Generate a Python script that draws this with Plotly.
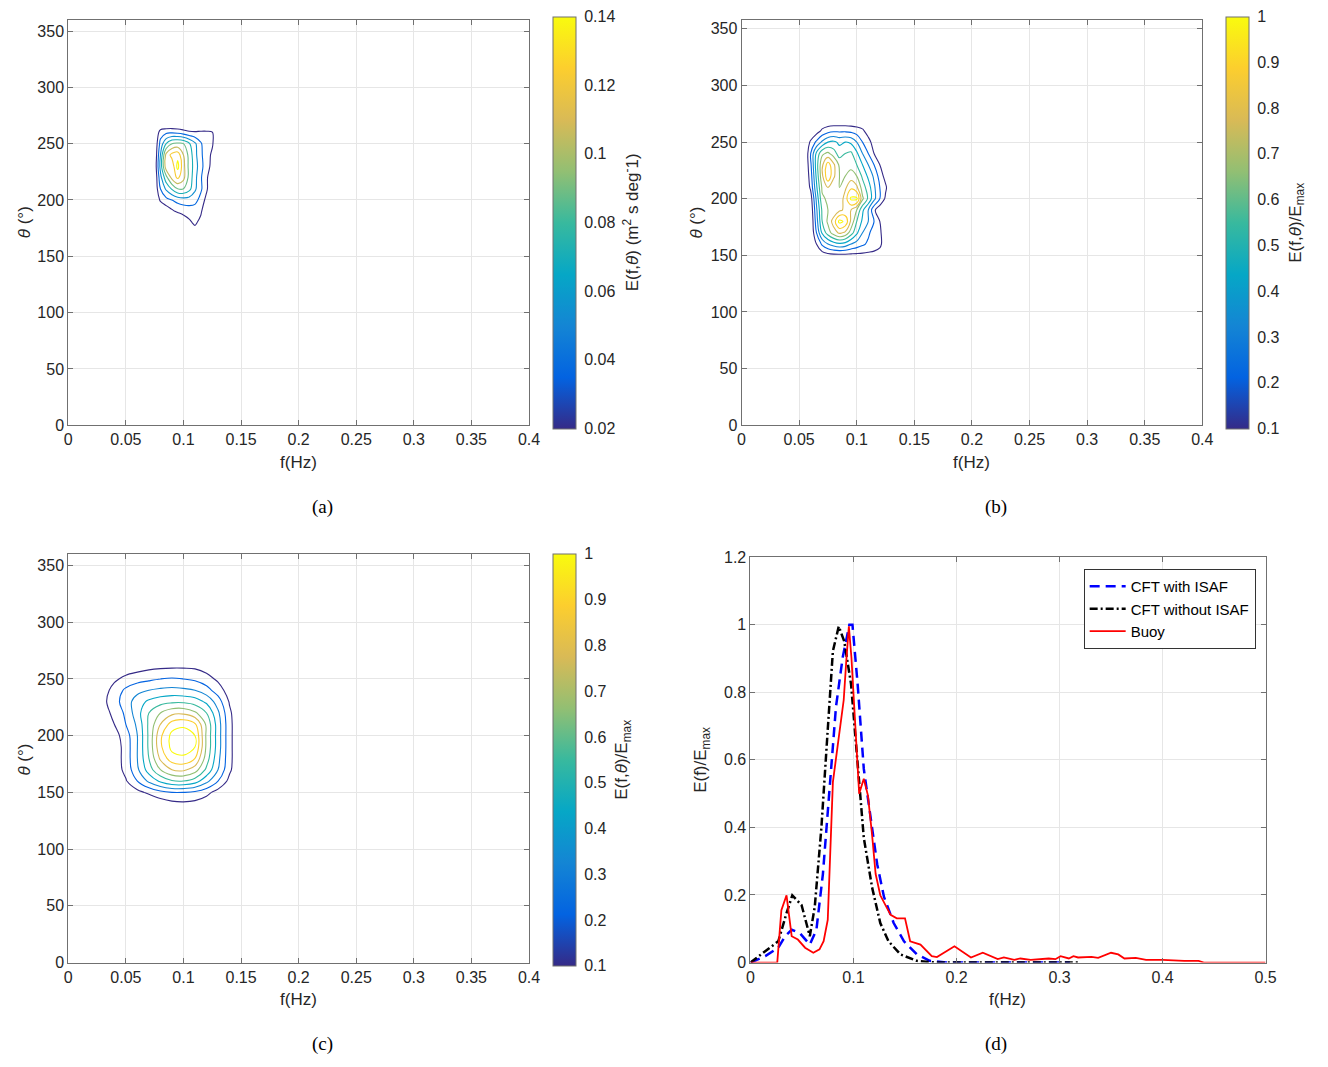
import plotly.graph_objects as go

# ---------------- data ----------------
# (a) E(f,theta) in m^2 s deg^-1
f_a = [0.07, 0.075, 0.08, 0.085, 0.09, 0.095, 0.10, 0.105, 0.11, 0.115, 0.12, 0.125, 0.13, 0.135]
theta_a = [160, 170, 180, 190, 200, 210, 220, 230, 240, 250, 260, 270]
E_a = [
    [0, 0, 0, 0, 0, 0, 0, 0, 0, 0, 0, 0, 0, 0],
    [0, 0, 0, 0, 0, 0, 0, 0.01, 0.016, 0.01, 0, 0, 0, 0],
    [0, 0, 0, 0, 0, 0, 0.015, 0.022, 0.028, 0.02, 0.005, 0, 0, 0],
    [0, 0, 0.005, 0.015, 0.022, 0.028, 0.03, 0.032, 0.032, 0.028, 0.01, 0, 0, 0],
    [0, 0.005, 0.028, 0.035, 0.04, 0.045, 0.048, 0.048, 0.045, 0.035, 0.02, 0, 0, 0],
    [0, 0.012, 0.04, 0.058, 0.072, 0.085, 0.085, 0.075, 0.058, 0.043, 0.028, 0.01, 0, 0],
    [0, 0.01, 0.05, 0.08, 0.105, 0.118, 0.105, 0.08, 0.06, 0.042, 0.028, 0.012, 0, 0],
    [0, 0.012, 0.06, 0.11, 0.105, 0.135, 0.105, 0.08, 0.063, 0.045, 0.032, 0.02, 0.01, 0],
    [0, 0.01, 0.055, 0.105, 0.12, 0.125, 0.10, 0.08, 0.06, 0.043, 0.032, 0.022, 0.01, 0],
    [0, 0.01, 0.045, 0.07, 0.085, 0.088, 0.085, 0.072, 0.058, 0.042, 0.03, 0.027, 0.01, 0],
    [0, 0.005, 0.033, 0.037, 0.038, 0.036, 0.032, 0.028, 0.027, 0.028, 0.028, 0.026, 0.005, 0],
    [0, 0, 0, 0, 0, 0, 0, 0, 0, 0, 0, 0, 0, 0],
]

# (b) normalised E(f,theta)/Emax, CFT with ISAF
f_b = [0.055, 0.06, 0.065, 0.07, 0.075, 0.08, 0.085, 0.09, 0.095, 0.10, 0.105, 0.11, 0.115, 0.12, 0.125, 0.13]
theta_b = [140, 150, 160, 170, 180, 190, 200, 210, 220, 230, 240, 250, 260, 270]
E_b = [
    [0, 0, 0, 0, 0, 0, 0, 0, 0, 0, 0, 0, 0, 0, 0, 0],
    [0, 0, 0, 0.04, 0.06, 0.07, 0.07, 0.07, 0.07, 0.07, 0.07, 0.07, 0.07, 0.06, 0, 0],
    [0, 0, 0.1, 0.22, 0.3, 0.35, 0.38, 0.36, 0.3, 0.26, 0.22, 0.18, 0.15, 0.12, 0.05, 0],
    [0, 0, 0.2, 0.42, 0.55, 0.65, 0.72, 0.68, 0.55, 0.42, 0.3, 0.22, 0.15, 0.12, 0.03, 0],
    [0, 0, 0.25, 0.5, 0.62, 0.75, 0.93, 0.88, 0.68, 0.5, 0.38, 0.3, 0.2, 0.1, 0.02, 0],
    [0, 0.02, 0.28, 0.52, 0.6, 0.62, 0.68, 0.72, 0.7, 0.6, 0.42, 0.3, 0.12, 0.03, 0, 0],
    [0, 0.05, 0.32, 0.58, 0.62, 0.6, 0.62, 0.75, 0.92, 0.92, 0.62, 0.48, 0.33, 0.2, 0.08, 0],
    [0, 0.12, 0.38, 0.62, 0.7, 0.62, 0.6, 0.68, 0.78, 0.72, 0.55, 0.45, 0.32, 0.2, 0.12, 0],
    [0, 0.15, 0.42, 0.68, 0.88, 0.72, 0.6, 0.6, 0.65, 0.6, 0.48, 0.38, 0.28, 0.16, 0.06, 0],
    [0, 0.18, 0.45, 0.68, 0.85, 0.72, 0.58, 0.55, 0.56, 0.5, 0.4, 0.3, 0.2, 0.1, 0.02, 0],
    [0, 0.2, 0.42, 0.58, 0.62, 0.55, 0.45, 0.5, 0.52, 0.42, 0.3, 0.2, 0.1, 0.02, 0, 0],
    [0, 0.12, 0.22, 0.32, 0.4, 0.42, 0.38, 0.4, 0.38, 0.3, 0.2, 0.14, 0.05, 0, 0, 0],
    [0, 0, 0.05, 0.12, 0.16, 0.18, 0.18, 0.18, 0.17, 0.15, 0.12, 0.05, 0, 0, 0, 0],
    [0, 0, 0, 0, 0, 0, 0, 0, 0, 0, 0, 0, 0, 0, 0, 0],
]

# (c) normalised E(f,theta)/Emax, CFT without ISAF
f_c = [0.02, 0.03, 0.04, 0.05, 0.06, 0.07, 0.08, 0.09, 0.10, 0.11, 0.12, 0.13, 0.14, 0.15, 0.16]
theta_c = [130, 140, 150, 160, 170, 180, 190, 200, 210, 220, 230, 240, 250, 260, 270]
E_c = [
    [0, 0, 0, 0, 0, 0, 0, 0, 0, 0, 0, 0, 0, 0, 0],
    [0, 0, 0, 0, 0, 0, 0.04, 0.07, 0.08, 0.07, 0.04, 0, 0, 0, 0],
    [0, 0, 0, 0.02, 0.07, 0.12, 0.17, 0.2, 0.2, 0.18, 0.13, 0.06, 0, 0, 0],
    [0, 0, 0.01, 0.09, 0.2, 0.32, 0.42, 0.49, 0.5, 0.45, 0.33, 0.2, 0.07, 0, 0],
    [0, 0, 0.04, 0.13, 0.28, 0.45, 0.6, 0.7, 0.72, 0.65, 0.48, 0.3, 0.12, 0, 0],
    [0, 0, 0.04, 0.14, 0.3, 0.5, 0.72, 0.86, 0.88, 0.8, 0.55, 0.33, 0.13, 0, 0],
    [0, 0, 0.04, 0.14, 0.3, 0.52, 0.78, 0.93, 0.95, 0.9, 0.58, 0.35, 0.13, 0, 0],
    [0, 0, 0.06, 0.15, 0.3, 0.52, 0.78, 0.93, 0.95, 0.9, 0.58, 0.35, 0.13, 0, 0],
    [0, 0.02, 0.1, 0.2, 0.32, 0.52, 0.7, 0.85, 0.88, 0.82, 0.58, 0.35, 0.13, 0, 0],
    [0, 0.05, 0.13, 0.22, 0.36, 0.5, 0.6, 0.67, 0.68, 0.62, 0.5, 0.32, 0.12, 0, 0],
    [0, 0.07, 0.16, 0.25, 0.35, 0.42, 0.46, 0.48, 0.48, 0.45, 0.38, 0.25, 0.09, 0, 0],
    [0, 0.05, 0.14, 0.22, 0.27, 0.3, 0.32, 0.33, 0.32, 0.3, 0.24, 0.15, 0.05, 0, 0],
    [0, 0, 0.08, 0.13, 0.16, 0.18, 0.2, 0.21, 0.2, 0.18, 0.14, 0.08, 0, 0, 0],
    [0, 0, 0.02, 0.04, 0.06, 0.08, 0.09, 0.095, 0.095, 0.09, 0.06, 0.02, 0, 0, 0],
    [0, 0, 0, 0, 0, 0, 0, 0, 0, 0, 0, 0, 0, 0, 0],
]

# (d) 1-D spectra
isaf_f = [0, 0.0144, 0.027, 0.0336, 0.040, 0.048, 0.0576, 0.064, 0.0703, 0.0768, 0.083, 0.0895,
          0.096, 0.099, 0.104, 0.110, 0.117, 0.123, 0.1296, 0.139, 0.149, 0.1615, 0.174, 0.19, 0.31]
isaf_E = [0, 0.019, 0.044, 0.078, 0.097, 0.087, 0.053, 0.097, 0.262, 0.515, 0.757, 0.903,
          1.0, 1.0, 0.825, 0.573, 0.417, 0.291, 0.194, 0.117, 0.063, 0.024, 0.005, 0, 0]
noisaf_f = [0, 0.027, 0.035, 0.0406, 0.0496, 0.0576, 0.0624, 0.0688, 0.075, 0.080, 0.0857, 0.091,
            0.0976, 0.104, 0.110, 0.118, 0.126, 0.134, 0.1456, 0.1615, 0.18, 0.32]
noisaf_E = [0, 0.063, 0.146, 0.199, 0.170, 0.078, 0.165, 0.398, 0.689, 0.922, 0.995, 0.951,
            0.825, 0.592, 0.369, 0.223, 0.117, 0.063, 0.024, 0.005, 0, 0]
buoy_f = [0, 0.026, 0.030, 0.035, 0.040, 0.046, 0.053, 0.061, 0.067, 0.071, 0.075, 0.080, 0.085,
          0.0905, 0.093, 0.0955, 0.098, 0.1055, 0.110, 0.114, 0.118, 0.1215, 0.126, 0.136, 0.142,
          0.150, 0.155, 0.165, 0.176, 0.181, 0.198, 0.214, 0.2255, 0.240, 0.246, 0.256, 0.262,
          0.272, 0.2895, 0.296, 0.301, 0.309, 0.3135, 0.318, 0.331, 0.3375, 0.350, 0.357, 0.363,
          0.374, 0.384, 0.400, 0.421, 0.435, 0.440, 0.50]
buoy_E = [0, 0, 0.155, 0.199, 0.078, 0.068, 0.044, 0.029, 0.039, 0.063, 0.126, 0.534, 0.650,
          0.777, 0.893, 0.995, 0.903, 0.50, 0.544, 0.495, 0.379, 0.262, 0.199, 0.141, 0.131,
          0.131, 0.063, 0.053, 0.019, 0.016, 0.048, 0.015, 0.029, 0.010, 0.015, 0.008, 0.012,
          0.008, 0.012, 0.010, 0.019, 0.012, 0.019, 0.015, 0.017, 0.014, 0.029, 0.024, 0.012,
          0.014, 0.008, 0.008, 0.005, 0.005, 0, 0]

legend_names = ["CFT with ISAF", "CFT without ISAF", "Buoy"]
captions = ["(a)", "(b)", "(c)", "(d)"]

# ---------------- styling ----------------
W, H = 1328, 1067
def X(px):
    return px / W
def Y(py):
    return 1 - py / H

parula = ['#352a87', '#0363e1', '#1485d4', '#06a7c6', '#38b99e',
          '#92bf73', '#d9ba56', '#fcce2e', '#f9fb0e']
cs = [[i / (len(parula) - 1), c] for i, c in enumerate(parula)]

FONT = "Liberation Sans, Arial, Helvetica, sans-serif"
SERIF = "Liberation Serif, Times New Roman, serif"
TXT = '#262626'
AX = '#707070'

fig = go.Figure()

def add_contour(f, th, z, axn, zmin, zmax, start, end, size):
    fig.add_trace(go.Contour(
        x=f, y=th, z=z, xaxis='x' + axn, yaxis='y' + axn,
        colorscale=cs, zmin=zmin, zmax=zmax, showscale=False,
        contours=dict(start=start, end=end, size=size, coloring='lines'),
        line=dict(width=1.1, smoothing=1.0), hoverinfo='skip', showlegend=False))

def add_cbar(axn, zmin, zmax, dtick, x_px, ytop_px, ybot_px):
    fig.add_trace(go.Scatter(
        x=[None, None], y=[None, None], mode='markers', xaxis='x' + axn, yaxis='y' + axn,
        showlegend=False, hoverinfo='skip',
        marker=dict(color=[zmin, zmax], cmin=zmin, cmax=zmax, colorscale=cs, showscale=True,
                    colorbar=dict(x=X(x_px), xanchor='left', y=Y((ytop_px + ybot_px) / 2),
                                  yanchor='middle', len=ybot_px - ytop_px, lenmode='pixels',
                                  thickness=23, thicknessmode='pixels', xpad=0, ypad=0,
                                  outlinecolor=AX, outlinewidth=1, ticks='outside', ticklen=5,
                                  tickcolor='rgba(0,0,0,0)', tick0=zmin, dtick=dtick,
                                  tickfont=dict(family=FONT, size=16, color=TXT)))))

add_contour(f_a, theta_a, E_a, '', 0.02, 0.14, 0.025, 0.13, 0.015)
add_cbar('', 0.02, 0.14, 0.02, 555, 12, 424)
add_contour(f_b, theta_b, E_b, '2', 0.1, 1.0, 0.1, 0.9, 0.1)
add_cbar('2', 0.1, 1.0, 0.1, 1236, 12, 424)
add_contour(f_c, theta_c, E_c, '3', 0.1, 1.0, 0.1, 0.9, 0.1)
add_cbar('3', 0.1, 1.0, 0.1, 555, 558, 970)

fig.add_trace(go.Scatter(x=isaf_f, y=isaf_E, mode='lines', name=legend_names[0],
                         xaxis='x4', yaxis='y4',
                         line=dict(color='#0000ff', width=2.5, dash='10px,6px')))
fig.add_trace(go.Scatter(x=noisaf_f, y=noisaf_E, mode='lines', name=legend_names[1],
                         xaxis='x4', yaxis='y4',
                         line=dict(color='#000000', width=2.5, dash='8px,3px,2px,3px')))
fig.add_trace(go.Scatter(x=buoy_f, y=buoy_E, mode='lines', name=legend_names[2],
                         xaxis='x4', yaxis='y4',
                         line=dict(color='#ff0000', width=1.8)))

base = dict(showline=True, linecolor=AX, linewidth=1, mirror='allticks', ticks='inside',
            ticklen=5, tickcolor=AX, showgrid=True, gridcolor='#e6e6e6', gridwidth=1,
            zeroline=False, fixedrange=True,
            tickfont=dict(family=FONT, size=16, color=TXT))

def xa(d0, d1, rng, dtick, anchor):
    return dict(base, domain=[X(d0), X(d1)], range=rng, tick0=0, dtick=dtick, anchor=anchor)

def ya(t, b, rng, dtick, anchor):
    return dict(base, domain=[Y(b), Y(t)], range=rng, tick0=0, dtick=dtick, anchor=anchor)

fig.update_layout(
    width=W, height=H, margin=dict(l=0, r=0, t=0, b=0),
    paper_bgcolor='white', plot_bgcolor='white', hovermode=False,
    xaxis=xa(65, 531, [0, 0.4], 0.05, 'y'),
    yaxis=ya(12, 424, [0, 360], 50, 'x'),
    xaxis2=xa(746, 1212, [0, 0.4], 0.05, 'y2'),
    yaxis2=ya(12, 424, [0, 358], 50, 'x2'),
    xaxis3=xa(65, 531, [0, 0.4], 0.05, 'y3'),
    yaxis3=ya(555, 970, [0, 360], 50, 'x3'),
    xaxis4=xa(755, 1276, [0, 0.5], 0.1, 'y4'),
    yaxis4=ya(558, 970, [0, 1.2], 0.2, 'x4'),
    legend=dict(x=X(1092), y=Y(570), xanchor='left', yanchor='top', bgcolor='white',
                bordercolor='#333333', borderwidth=1, tracegroupgap=0, itemwidth=36,
                font=dict(family=FONT, size=15, color='#000000')),
)

ann = []
def text(x, y, s, size=17, angle=0, family=FONT, color=TXT):
    ann.append(dict(x=X(x), y=Y(y), xref='paper', yref='paper', text=s, showarrow=False,
                    xanchor='center', yanchor='middle', textangle=angle,
                    font=dict(family=family, size=size, color=color)))

theta_lbl = "<i>θ</i> (°)"
text(298, 462, "f(Hz)")
text(979, 462, "f(Hz)")
text(298, 1008, "f(Hz)")
text(1015, 1008, "f(Hz)")
text(21, 218, theta_lbl, angle=-90)
text(700, 218, theta_lbl, angle=-90)
text(21, 764, theta_lbl, angle=-90)
text(706, 764, "E(f)/E<sub>max</sub>", angle=-90)
text(634, 218, "E(f,<i>θ</i>) (m<sup>2</sup> s deg<sup>-</sup>1)", angle=-90)
text(1307, 218, "E(f,<i>θ</i>)/E<sub>max</sub>", angle=-90)
text(626, 764, "E(f,<i>θ</i>)/E<sub>max</sub>", angle=-90)
for (cx, cy), cap in zip([(322, 507), (1003, 507), (322, 1053), (1003, 1053)], captions):
    text(cx, cy, cap, size=19, family=SERIF, color='#000000')
fig.update_layout(annotations=ann)

fig.write_html("out.html")
